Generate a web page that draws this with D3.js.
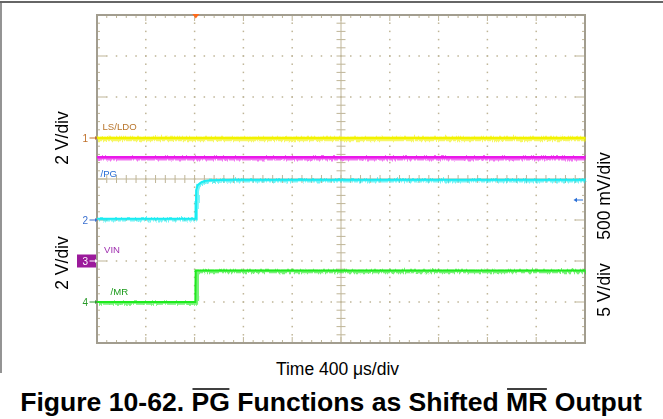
<!DOCTYPE html>
<html><head><meta charset="utf-8">
<script src="https://cdn.jsdelivr.net/npm/d3@7"></script>
<style>
html,body{margin:0;padding:0;background:#fff;}
svg{display:block;font-family:"Liberation Sans",Arial,sans-serif;}
</style></head>
<body>
<svg id="chart" width="663" height="419"></svg>
<script>
// ---- Data (time in µs, amplitude in screen divisions from centre) ----
const timeDomain = [0, 4000];          // 10 div x 400 µs
const divDomain = [-4, 4];             // 8 vertical divisions
const lsldoTime = [0, 4000];
const lsldoDiv  = [1.0, 1.0];
const vinTime   = [0, 4000];
const vinDiv    = [0.53, 0.53];
const pgTime    = [0, 811, 813, 825, 850, 880, 930, 1100, 4000];
const pgDiv     = [-0.97, -0.97, -0.27, -0.15, -0.09, -0.05, -0.03, -0.02, -0.02];
const mrTime    = [0, 806, 809, 4000];
const mrDiv     = [-3.0, -3.0, -2.23, -2.23];
const channelLevels = [1, -1, -2, -3];   // ground markers 1..4
const channelNames = ["1", "2", "3", "4"];
const traceLabels = ["LS/LDO", "/PG", "VIN", "/MR"];
const leftAxisLabels = ["2 V/div", "2 V/div"];
const rightAxisLabels = ["500 mV/div", "5 V/div"];
const xLabel = "Time 400 μs/div";
const captionParts = ["Figure 10-62. ", "PG", " Functions as Shifted ", "MR", " Output"];
const triggerTime = 810;

const svg = d3.select("#chart");
const L = 97, R = 585, T = 15, B = 343;
const x = d3.scaleLinear().domain(timeDomain).range([L, R]);
const y = d3.scaleLinear().domain(divDomain).range([B, T]);

// noise texture filter (visual style of a scope trace)
const defs = svg.append("defs");
const f = defs.append("filter").attr("id", "fuzz").attr("filterUnits", "userSpaceOnUse")
  .attr("x", 0).attr("y", 0).attr("width", 663).attr("height", 419);
f.append("feTurbulence").attr("type", "turbulence").attr("baseFrequency", "0.9 0.02")
  .attr("numOctaves", 2).attr("seed", 3).attr("result", "n");
f.append("feDisplacementMap").attr("in", "SourceGraphic").attr("in2", "n")
  .attr("scale", 4).attr("xChannelSelector", "G").attr("yChannelSelector", "R");

// outer figure border (top + left)
svg.append("line").attr("x1", 0).attr("x2", 663).attr("y1", 2).attr("y2", 2)
  .attr("stroke", "#333").attr("stroke-width", 1.6);
svg.append("line").attr("x1", 1).attr("x2", 1).attr("y1", 2).attr("y2", 373)
  .attr("stroke", "#666").attr("stroke-width", 1.4);

const grid = svg.append("g");
const gridCol = "#bfb597";
const xMajor = d3.range(0, 4001, 400);
const xMinor = d3.range(0, 4001, 80);
const yMajor = d3.range(-4, 4.001, 1);
const yMinor = d3.range(-4, 4.001, 0.2).map(v => +v.toFixed(2));

xMajor.filter(t => t > 0 && t < 4000 && t !== 2000).forEach(t => {
  yMinor.forEach(v => {
    if (v <= -4 || v >= 4) return;
    grid.append("rect").attr("x", x(t) - 0.75).attr("y", y(v) - 0.75)
      .attr("width", 1.5).attr("height", 1.5).attr("fill", gridCol);
  });
});
yMajor.filter(v => v > -4 && v < 4 && v !== 0).forEach(v => {
  xMinor.forEach(t => {
    if (t <= 0 || t >= 4000) return;
    grid.append("rect").attr("x", x(t) - 0.75).attr("y", y(v) - 0.75)
      .attr("width", 1.5).attr("height", 1.5).attr("fill", gridCol);
  });
});
grid.append("line").attr("x1", L).attr("x2", R).attr("y1", y(0)).attr("y2", y(0))
  .attr("stroke", gridCol).attr("stroke-width", 1);
grid.append("line").attr("x1", x(2000)).attr("x2", x(2000)).attr("y1", T).attr("y2", B)
  .attr("stroke", gridCol).attr("stroke-width", 1);
xMinor.forEach(t => {
  grid.append("line").attr("x1", x(t)).attr("x2", x(t))
    .attr("y1", y(0) - 4).attr("y2", y(0) + 4).attr("stroke", gridCol).attr("stroke-width", 1);
  const len = (t % 400 === 0) ? 6 : 3;
  grid.append("line").attr("x1", x(t)).attr("x2", x(t)).attr("y1", T).attr("y2", T + len)
    .attr("stroke", gridCol).attr("stroke-width", 1);
  grid.append("line").attr("x1", x(t)).attr("x2", x(t)).attr("y1", B).attr("y2", B - len)
    .attr("stroke", gridCol).attr("stroke-width", 1);
});
yMinor.forEach(v => {
  grid.append("line").attr("x1", x(2000) - 4.5).attr("x2", x(2000) + 4.5)
    .attr("y1", y(v)).attr("y2", y(v)).attr("stroke", gridCol).attr("stroke-width", 1);
  const major = Math.abs(v - Math.round(v)) < 1e-6;
  const len = major ? 9 : 3;
  grid.append("line").attr("x1", L).attr("x2", L + len).attr("y1", y(v)).attr("y2", y(v))
    .attr("stroke", gridCol).attr("stroke-width", 1);
  grid.append("line").attr("x1", R).attr("x2", R - len).attr("y1", y(v)).attr("y2", y(v))
    .attr("stroke", gridCol).attr("stroke-width", 1);
});
svg.append("rect").attr("x", L).attr("y", T).attr("width", R - L).attr("height", B - T)
  .attr("fill", "none").attr("stroke", "#a29d8f").attr("stroke-width", 2);

// trigger marker
svg.append("path")
  .attr("d", `M${x(triggerTime) - 3.5},${T - 1} L${x(triggerTime) + 3.5},${T - 1} L${x(triggerTime)},${T + 3.5} Z`)
  .attr("fill", "#ff6a1a");

// traces
const line = d3.line().x(d => x(d[0])).y(d => y(d[1]));
const traces = [
  {t: lsldoTime, v: lsldoDiv, c: "#f2f200", band: 4.5, core: 2.5},
  {t: vinTime, v: vinDiv, c: "#ea18ea", band: 4.5, core: 2.5},
  {t: pgTime, v: pgDiv, c: "#18ecf2", band: 3.5, core: 2},
  {t: mrTime, v: mrDiv, c: "#1eea1e", band: 3.5, core: 2}
];
const tg = svg.append("g");
const fuzzG = tg.append("g").attr("filter", "url(#fuzz)");
traces.forEach(tr => {
  const pts = tr.t.map((t, i) => [t, tr.v[i]]);
  fuzzG.append("path").attr("d", line(pts)).attr("fill", "none")
    .attr("stroke", tr.c).attr("stroke-width", tr.band).attr("opacity", 0.6);
  tg.append("path").attr("d", line(pts)).attr("fill", "none")
    .attr("stroke", tr.c).attr("stroke-width", tr.core);
});

// channel ground markers
const markerCols = ["#c0702a", "#3a70d0", "#ffffff", "#2a9a2a"];
channelLevels.forEach((lv, i) => {
  const yy = y(lv);
  if (i === 2) {
    svg.append("rect").attr("x", 77).attr("y", yy - 6.5).attr("width", 19).attr("height", 13)
      .attr("fill", "#9b1a9b");
  }
  svg.append("text").attr("x", 88).attr("y", yy + 3.5).attr("text-anchor", "end")
    .attr("font-size", 10).attr("fill", markerCols[i]).text(channelNames[i]);
  svg.append("line").attr("x1", 89.5).attr("x2", 95).attr("y1", yy).attr("y2", yy)
    .attr("stroke", markerCols[i]).attr("stroke-width", 1);
  svg.append("path").attr("d", `M95,${yy - 2} L97.5,${yy} L95,${yy + 2} Z`).attr("fill", markerCols[i]);
});

// trace labels
const labelPos = [[102.5, 129.5, "#b8742a"], [100.5, 177, "#2a6fd6"], [104, 252.5, "#a030b0"], [110.5, 294.5, "#1a9a1a"]];
traceLabels.forEach((s, i) => {
  svg.append("text").attr("x", labelPos[i][0]).attr("y", labelPos[i][1])
    .attr("font-size", 9.6).attr("fill", labelPos[i][2]).text(s);
});

// right-side blue offset arrow
svg.append("line").attr("x1", 576).attr("x2", 583).attr("y1", 200).attr("y2", 200)
  .attr("stroke", "#2a6fd6").attr("stroke-width", 1);
svg.append("path").attr("d", "M573.5,200 L577,197.8 L577,202.2 Z").attr("fill", "#2a6fd6");

// axis labels
const leftCenters = [138, 263];
leftAxisLabels.forEach((s, i) => {
  svg.append("text").attr("transform", `translate(67.5,${leftCenters[i]}) rotate(-90)`)
    .attr("text-anchor", "middle").attr("font-size", 17.5).attr("fill", "#000").text(s);
});
const rightCenters = [196, 290];
rightAxisLabels.forEach((s, i) => {
  svg.append("text").attr("transform", `translate(610,${rightCenters[i]}) rotate(-90)`)
    .attr("text-anchor", "middle").attr("font-size", 17.5).attr("fill", "#000").text(s);
});
svg.append("text").attr("x", 337.5).attr("y", 375).attr("text-anchor", "middle")
  .attr("font-size", 17.5).attr("fill", "#000").text(xLabel);

// caption with overlines
const cap = svg.append("text").attr("x", 331).attr("y", 411).attr("text-anchor", "middle")
  .attr("font-size", 24).attr("font-weight", "bold").attr("fill", "#000");
captionParts.forEach(p => cap.append("tspan").text(p));
const node = cap.node();
const targetW = 622;
const fs = 24 * targetW / node.getComputedTextLength();
cap.attr("font-size", fs);
let idx = 0;
captionParts.forEach((p, i) => {
  if (i === 1 || i === 3) {
    const s = node.getStartPositionOfChar(idx).x;
    const e = node.getEndPositionOfChar(idx + p.length - 1).x;
    svg.append("line").attr("x1", s + 1).attr("x2", e - 0.5).attr("y1", 389).attr("y2", 389)
      .attr("stroke", "#000").attr("stroke-width", 1.6);
  }
  idx += p.length;
});
</script>
</body></html>
